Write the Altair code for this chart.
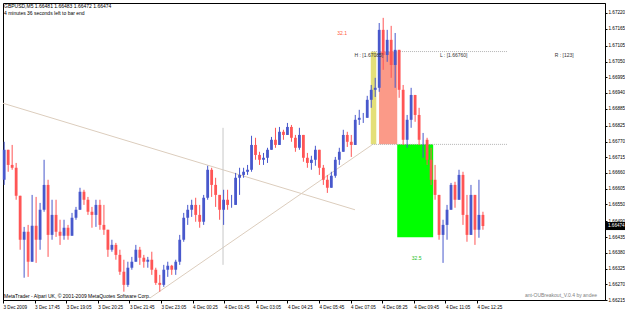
import json
import altair as alt
import pandas as pd

# ---------------- data ----------------
HIGH = [
    1.66769, 1.66741, 1.66758, 1.66695, 1.66576, 1.66471, 1.66478, 1.66583, 1.66576, 1.66555,
    1.66706, 1.66636, 1.66566, 1.66566, 1.66496, 1.66496, 1.66478, 1.66520, 1.66541, 1.66608,
    1.66601, 1.66576, 1.66541, 1.66566, 1.66566, 1.66548, 1.66454, 1.66426, 1.66415, 1.66391,
    1.66356, 1.66349, 1.66366, 1.66408, 1.66401, 1.66373, 1.66366, 1.66384, 1.66328, 1.66303,
    1.66338, 1.66349, 1.66338, 1.66356, 1.66443, 1.66520, 1.66548, 1.66566, 1.66573, 1.66548,
    1.66583, 1.66685, 1.66678, 1.66643, 1.66583, 1.66601, 1.66601, 1.66583, 1.66660, 1.66678,
    1.66678, 1.66688, 1.66790, 1.66783, 1.66734, 1.66730, 1.66748, 1.66786, 1.66818, 1.66821,
    1.66811, 1.66835, 1.66828, 1.66793, 1.66818, 1.66783, 1.66730, 1.66720, 1.66755, 1.66730,
    1.66688, 1.66653, 1.66664, 1.66716, 1.66748, 1.66811, 1.66804, 1.66793, 1.66863, 1.66881,
    1.66870, 1.66930, 1.66968, 1.66993, 1.67185, 1.67203, 1.67161, 1.67175, 1.67150, 1.67091,
    1.66968, 1.66863, 1.66958, 1.66933, 1.66888, 1.66800, 1.66783, 1.66748, 1.66688, 1.66583,
    1.66496, 1.66548, 1.66625, 1.66629, 1.66671, 1.66664, 1.66583, 1.66618, 1.66513, 1.66636, 1.66524,
]
LOW = [
    1.66618, 1.66664, 1.66671, 1.66566, 1.66391, 1.66293, 1.66296, 1.66391, 1.66345, 1.66391,
    1.66524, 1.66366, 1.66426, 1.66436, 1.66408, 1.66426, 1.66426, 1.66450, 1.66496, 1.66531,
    1.66548, 1.66513, 1.66468, 1.66471, 1.66461, 1.66443, 1.66366, 1.66384, 1.66356, 1.66303,
    1.66244, 1.66261, 1.66321, 1.66349, 1.66338, 1.66328, 1.66328, 1.66303, 1.66268, 1.66244,
    1.66261, 1.66296, 1.66303, 1.66303, 1.66338, 1.66419, 1.66478, 1.66506, 1.66489, 1.66468,
    1.66478, 1.66566, 1.66576, 1.66541, 1.66496, 1.66478, 1.66531, 1.66538, 1.66548, 1.66583,
    1.66643, 1.66653, 1.66664, 1.66706, 1.66688, 1.66688, 1.66695, 1.66741, 1.66748, 1.66769,
    1.66776, 1.66793, 1.66769, 1.66734, 1.66741, 1.66699, 1.66678, 1.66671, 1.66685, 1.66653,
    1.66618, 1.66590, 1.66615, 1.66643, 1.66688, 1.66734, 1.66751, 1.66716, 1.66769, 1.66828,
    1.66835, 1.66853, 1.66888, 1.66926, 1.66944, 1.67021, 1.67049, 1.66993, 1.66958, 1.66923,
    1.66758, 1.66748, 1.66818, 1.66839, 1.66758, 1.66713, 1.66688, 1.66618, 1.66566, 1.66426,
    1.66345, 1.66426, 1.66541, 1.66538, 1.66566, 1.66478, 1.66419, 1.66496, 1.66408, 1.66433, 1.66461,
]
CLOSE = [
    1.66741, 1.66688, 1.66678, 1.66580, 1.66426, 1.66454, 1.66349, 1.66475, 1.66426, 1.66531,
    1.66618, 1.66443, 1.66513, 1.66454, 1.66440, 1.66468, 1.66440, 1.66503, 1.66531, 1.66594,
    1.66566, 1.66524, 1.66513, 1.66548, 1.66478, 1.66461, 1.66391, 1.66408, 1.66373, 1.66314,
    1.66268, 1.66328, 1.66349, 1.66391, 1.66363, 1.66349, 1.66356, 1.66321, 1.66275, 1.66268,
    1.66321, 1.66335, 1.66321, 1.66349, 1.66426, 1.66503, 1.66531, 1.66548, 1.66513, 1.66489,
    1.66573, 1.66671, 1.66618, 1.66583, 1.66531, 1.66566, 1.66548, 1.66548, 1.66643, 1.66653,
    1.66664, 1.66671, 1.66758, 1.66723, 1.66706, 1.66713, 1.66741, 1.66776, 1.66758, 1.66804,
    1.66793, 1.66821, 1.66783, 1.66748, 1.66793, 1.66713, 1.66695, 1.66706, 1.66741, 1.66678,
    1.66636, 1.66608, 1.66650, 1.66706, 1.66734, 1.66793, 1.66769, 1.66758, 1.66846, 1.66853,
    1.66853, 1.66916, 1.66951, 1.66958, 1.67161, 1.67073, 1.67126, 1.67038, 1.67091, 1.66951,
    1.66776, 1.66846, 1.66933, 1.66863, 1.66776, 1.66776, 1.66706, 1.66636, 1.66583, 1.66443,
    1.66478, 1.66531, 1.66618, 1.66566, 1.66653, 1.66513, 1.66443, 1.66583, 1.66461, 1.66513, 1.66474,
]
FIRST_OPEN = 1.66636
BAR_STEP_MIN = 10.1   # minutes between drawn bars
FIRST_BAR_MIN = 3

Y_TICKS = [1.67220, 1.67165, 1.67105, 1.67050, 1.66995, 1.66940, 1.66885, 1.66825, 1.66770,
           1.66715, 1.66660, 1.66605, 1.66550, 1.66490, 1.66435, 1.66380, 1.66325, 1.66270, 1.66215]
X_TICKS = [0, 80, 160, 240, 320, 400, 480, 560, 640, 720, 800, 880, 960, 1040, 1120, 1200]
X_LABELS = ["3 Dec 2009", "3 Dec 17:45", "3 Dec 19:05", "3 Dec 20:25", "3 Dec 21:45",
            "3 Dec 23:05", "4 Dec 00:25", "4 Dec 01:45", "4 Dec 03:05", "4 Dec 04:25",
            "4 Dec 05:45", "4 Dec 07:05", "4 Dec 08:25", "4 Dec 09:45", "4 Dec 11:05",
            "4 Dec 12:25"]

RANGE_HIGH = 1.67085
RANGE_LOW = 1.66760
TARGET_LOW = 1.66435
LAST_PRICE = 1.66474

assert len(HIGH) == len(LOW) == len(CLOSE)

opens = [FIRST_OPEN] + CLOSE[:-1]
rows = []
for i, (h, l, c, o) in enumerate(zip(HIGH, LOW, CLOSE, opens)):
    rows.append(dict(t=FIRST_BAR_MIN + BAR_STEP_MIN * i,
                     high=max(h, o, c), low=min(l, o, c),
                     open=o, close=c, dir="up" if c >= o else "down"))
bars = pd.DataFrame(rows)

FONT = "Liberation Sans"
FS = 5
AFS = 4.6

xscale = alt.Scale(domain=[0, 1524], nice=False, zero=False)
yscale = alt.Scale(domain=[1.66215, 1.67255], nice=False, zero=False)

xaxis = alt.Axis(values=X_TICKS, labelExpr=f"{json.dumps(X_LABELS)}[round(datum.value/80)]",
                 labelAlign="left", labelPadding=1, tickSize=3, labelFont=FONT,
                 labelFontSize=AFS, labelColor="#000", domainColor="#000", tickColor="#000",
                 grid=False, title=None, labelFlush=False, labelOverlap=False)
yaxis = alt.Axis(orient="right", values=Y_TICKS, format=".5f", labelPadding=1, tickSize=2,
                 labelFont=FONT, labelFontSize=AFS, labelColor="#000", domainColor="#000",
                 tickColor="#000", grid=False, title=None, labelOverlap=False, labelFlush=False)


def X(field):
    return alt.X(field, scale=xscale, axis=xaxis)


def Y(field):
    return alt.Y(field, scale=yscale, axis=yaxis)


# boxes of the breakout indicator
boxes = pd.DataFrame([
    dict(t0=931, t1=945, p0=RANGE_HIGH, p1=RANGE_LOW, c="#e4df78"),
    dict(t0=952, t1=998, p0=RANGE_HIGH, p1=RANGE_LOW, c="#fb9a88"),
    dict(t0=998, t1=1089, p0=RANGE_LOW, p1=TARGET_LOW, c="#00ff00"),
])
box_layer = alt.Chart(boxes).mark_rect().encode(
    x=X("t0:Q"), x2="t1:Q", y=Y("p0:Q"), y2="p1:Q",
    color=alt.Color("c:N", scale=None, legend=None))

# trend lines
trend = pd.DataFrame([
    dict(g="a", t=0, p=1.66904), dict(g="a", t=891, p=1.66531),
    dict(g="b", t=372, p=1.66222), dict(g="b", t=934, p=1.66758),
])
trend_layer = alt.Chart(trend).mark_line(color="#dccdbd", strokeWidth=1).encode(
    x=X("t:Q"), y=Y("p:Q"), detail="g:N")

vline = pd.DataFrame([dict(t=557, p0=1.66818, p1=1.66338)])
vline_layer = alt.Chart(vline).mark_rule(color="#c8c8c8", strokeWidth=1).encode(
    x=X("t:Q"), y=Y("p0:Q"), y2="p1:Q")

hl = pd.DataFrame([dict(t0=934, t1=1278, p=RANGE_HIGH), dict(t0=934, t1=1278, p=RANGE_LOW)])
hl_layer = alt.Chart(hl).mark_rule(color="#b4b4b4", strokeWidth=1, strokeDash=[1, 1]).encode(
    x=X("t0:Q"), x2="t1:Q", y=Y("p:Q"))

dir_scale = alt.Scale(domain=["up", "down"], range=["#4858cc", "#ff5555"])
body_scale = alt.Scale(domain=["up", "down"], range=["#1f4ec0", "#ff3030"])

wick_layer = alt.Chart(bars).mark_rule(strokeWidth=1).encode(
    x=X("t:Q"), y=Y("high:Q"), y2="low:Q",
    color=alt.Color("dir:N", scale=dir_scale, legend=None))
body_layer = alt.Chart(bars).mark_rule(strokeWidth=2.8).encode(
    x=X("t:Q"), y=Y("open:Q"), y2="close:Q",
    color=alt.Color("dir:N", scale=body_scale, legend=None))

labels = pd.DataFrame([
    dict(t=846, p=1.67150, s="32.1", c="#ff5a3c"),
    dict(t=1035, p=1.66363, s="32.5", c="#22c022"),
    dict(t=890, p=1.67073, s=f"H : [{RANGE_HIGH:.5f}]", c="#333333"),
    dict(t=1106, p=1.67073, s=f"L : [{RANGE_LOW:.5f}]", c="#333333"),
    dict(t=1397, p=1.67073, s="R : [123]", c="#333333"),
])
label_layer = alt.Chart(labels).mark_text(align="left", baseline="middle", font=FONT,
                                          fontSize=FS).encode(
    x=X("t:Q"), y=Y("p:Q"), text="s:N",
    color=alt.Color("c:N", scale=None, legend=None))


# header / footer texts
def px_text(s, x, y, align="left", color="#000"):
    return alt.Chart(pd.DataFrame([{"s": s}])).mark_text(
        align=align, baseline="middle", font=FONT, fontSize=FS, color=color).encode(
        x=alt.value(x), y=alt.value(y), text="s:N")


hdr = px_text("GBPUSD,M5  1.66481 1.66483 1.66472 1.66474", 1, 3)
hdr2 = px_text("4 minutes 36 seconds left to bar end", 1, 10)
ftr = px_text("MetaTrader - Alpari UK, © 2001-2009 MetaQuotes Software Corp.", 1, 293)
sig = px_text("ant-OUBreakout_V.0.4 by andee", 594, 292, align="right", color="#808080")

# current price marker on the price axis
cur = pd.DataFrame([dict(p=LAST_PRICE, p0=LAST_PRICE + 0.00014, p1=LAST_PRICE - 0.00014,
                         s=f"{LAST_PRICE:.5f}")])
cur_box = alt.Chart(cur).mark_rect(color="#000").encode(
    x=alt.value(602), x2=alt.value(622), y=Y("p0:Q"), y2="p1:Q")
cur_txt = alt.Chart(cur).mark_text(align="left", baseline="middle", font=FONT, fontSize=AFS,
                                   color="#fff").encode(
    x=alt.value(605), y=Y("p:Q"), text="s:N")

chart = alt.layer(
    box_layer, trend_layer, vline_layer, hl_layer, wick_layer, body_layer, label_layer,
    hdr, hdr2, ftr, sig, cur_box, cur_txt,
).properties(
    width=602, height=297,
    padding={"left": 3, "top": 3, "right": 20, "bottom": 11},
    autosize=alt.AutoSizeParams(type="none"),
    background="white",
).configure_view(stroke="#000", strokeWidth=1)

chart.save("out.html", embed_options={"renderer": "svg", "actions": False})
